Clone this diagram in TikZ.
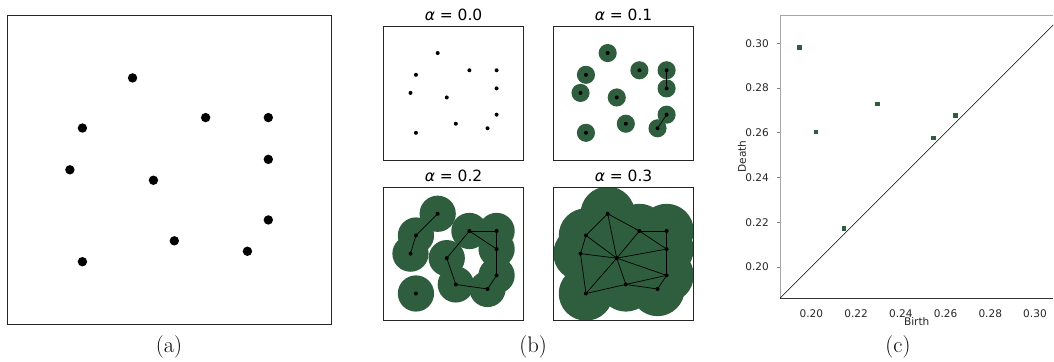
\documentclass[tikz,border=0pt]{standalone}
\usepackage{fontspec}
\newfontfamily\plotfont{DejaVu Sans}
\usetikzlibrary{positioning}
\definecolor{ballgreen}{RGB}{47,94,62}

\newcommand\pointcloud{1/0.30/0.88, 2/0.65/0.69, 3/0.95/0.69, 4/0.06/0.64,
5/0.95/0.49, 6/0.00/0.44, 7/0.40/0.39, 8/0.95/0.20, 9/0.50/0.10,
10/0.85/0.05, 11/0.06/0.00}

\begin{document}
\begin{tikzpicture}[
x=0.025cm, y=-0.025cm,
frame/.style={draw=black!85, line width=0.6pt},
bigdot/.style={circle, fill=black, inner sep=0pt, minimum size=2.35mm},
dot/.style={circle, fill=black, inner sep=0pt, minimum size=1mm},
edge/.style={line width=0.5pt},
ball/.style={fill=ballgreen},
sq/.style={fill=ballgreen, inner sep=0pt, minimum size=3.3pt},
caption/.style={font=\fontsize{16}{19}\selectfont},
title/.style={font=\plotfont\fontsize{11}{13}\selectfont, anchor=base},
tick/.style={font=\plotfont\fontsize{7.5}{9}\selectfont, text=black!85}
]
\useasboundingbox (0,0) rectangle (1054,362);

% (a) the point cloud
\begin{scope}[shift={(69.9,261.7)}, x=5.22cm, y=5.22cm]
\draw[frame] (-0.3,-0.3) rectangle (1.25,1.18);
\foreach \i/\px/\py in \pointcloud {
  \node[bigdot] (a\i) at (\px,\py) {};
}
\end{scope}
\node[caption] (capa) at (169,347) {(a)};

% (b) growing balls
\foreach \k/\ox/\oy/\r in {0/410.5/132.8/0.0, 1/580.5/132.8/0.1,
                          2/410.5/293.5/0.2, 3/580.5/293.5/0.3} {
  \begin{scope}[shift={(\ox,\oy)}, x=2.265cm, y=2.265cm]
  \foreach \i/\px/\py in \pointcloud {
    \coordinate (b\k-\i) at (\px,\py);
  }
  \ifnum\k>0
  \begin{scope}
  \clip (-0.3,-0.3) rectangle (1.25,1.175);
  \foreach \i/\px/\py in \pointcloud {
    \fill[ball] (b\k-\i) circle[radius=\r];
  }
  \end{scope}
  \fi
  \node[title] (title\k) at (0.475,1.24) {{\itshape α} = \r};
  \end{scope}
}

% edges of the complexes
\foreach \s/\t in {3/5, 8/10}
  \draw[edge] (b1-\s) -- (b1-\t);
\foreach \s/\t in {1/4, 4/6, 2/3, 2/5, 3/5, 2/7, 7/9, 9/10, 10/8, 8/5}
  \draw[edge] (b2-\s) -- (b2-\t);
\foreach \s/\t in {1/4, 4/6, 6/11, 1/7, 1/2, 4/7, 6/7, 2/3, 3/5, 2/5,
                   2/7, 7/5, 7/8, 7/9, 7/11, 11/9, 9/8, 9/10, 10/8, 8/5}
  \draw[edge] (b3-\s) -- (b3-\t);

% dots and frames on top
\foreach \k/\ox/\oy in {0/410.5/132.8, 1/580.5/132.8,
                        2/410.5/293.5, 3/580.5/293.5} {
  \begin{scope}[shift={(\ox,\oy)}, x=2.265cm, y=2.265cm]
  \draw[frame] (-0.3,-0.3) rectangle (1.25,1.175);
  \foreach \i/\px/\py in \pointcloud {
    \node[dot] (d\k-\i) at (b\k-\i) {};
  }
  \end{scope}
}
\node[caption] (capb) at (533,347) {(b)};

% (c) persistence diagram
\begin{scope}[shift={(364.3,714.0)}, x=55.875cm, y=55.875cm]
\draw[black!35, line width=0.5pt] (0.186,0.186) -- (0.186,0.3127) -- (0.3082,0.3127);
\draw[black!80, line width=0.5pt] (0.186,0.186) -- (0.3082,0.186);
\draw[line width=0.4pt] (0.186,0.186) -- (0.3082,0.3082);
\foreach \v in {0.20,0.22,0.24,0.26,0.28,0.30} {
  \draw[black!50, line width=0.4pt] (0.186,\v) -- ++(-2pt,0);
  \node[tick, anchor=east] (yt\v) at (0.186,\v) [xshift=-4.5pt] {\v};
  \node[tick, anchor=north] (xt\v) at (\v,0.186) [yshift=-4.5pt] {\v};
}
\node[tick] (birth) at ([yshift=-16.6pt]0.2471,0.186) {Birth};
\node[tick, rotate=90] (death) at ([xshift=-27.2pt]0.186,0.2494) {Death};
\node[sq] (h1) at (0.1946,0.2982) {};
\node[sq] (h2) at (0.2020,0.2603) {};
\node[sq] (h3) at (0.2295,0.2728) {};
\node[sq] (h4) at (0.2145,0.2171) {};
\node[sq] (h5) at (0.2545,0.2577) {};
\node[sq] (h6) at (0.2645,0.2676) {};
\end{scope}
\node[caption] (capc) at (898,347) {(c)};

\end{tikzpicture}
\end{document}
